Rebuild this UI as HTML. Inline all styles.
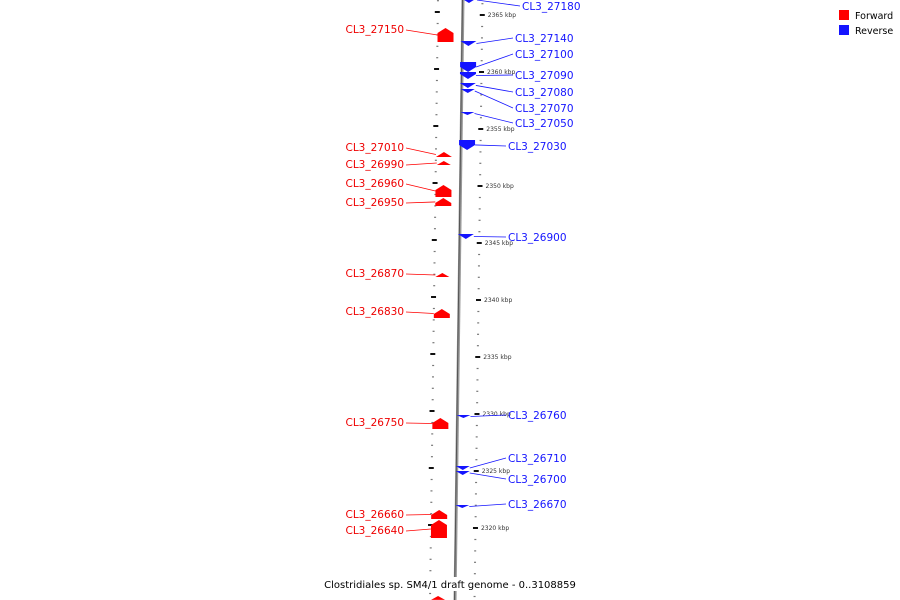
<!DOCTYPE html>
<html><head><meta charset="utf-8"><style>
body{margin:0;background:#fff}
svg{display:block;font-family:"DejaVu Sans","Liberation Sans",sans-serif}
</style></head><body>
<svg id="map" width="900" height="600" viewBox="0 0 900 600">
<g id="ticks"></g>
<path d="M463,-2 Q459,300 455,602" stroke="#999" stroke-width="3" fill="none"/>
<path d="M462.5,-2 Q458.5,300 454.5,602" stroke="#555" stroke-width="1" fill="none"/>
<g id="genes"></g>
<g id="legend">
<rect x="839" y="10" width="10" height="10" fill="#f00"/>
<text x="855" y="19" font-size="9.5" fill="#000">Forward</text>
<rect x="839" y="25" width="10" height="10" fill="#1414ff"/>
<text x="855" y="34" font-size="9.5" fill="#000">Reverse</text>
</g>
<rect x="330" y="577" width="240" height="14" fill="#fff"/>
<text x="450" y="588" font-size="10" text-anchor="middle" fill="#000">Clostridiales sp. SM4/1 draft genome - 0..3108859</text>
</svg>
<script>
const fwdNames=["CL3_27150","CL3_27010","CL3_26990","CL3_26960","CL3_26950","CL3_26870","CL3_26830","CL3_26750","CL3_26660","CL3_26640",""];
const fwdStart=[2363.86,2352.98,2352.19,2350.09,2348.95,2342.37,2339.21,2329.65,2321.58,2320.70,2314.04];
const fwdEnd=[2362.63,2352.54,2351.84,2349.04,2348.25,2342.02,2338.42,2328.68,2320.79,2319.12,2313.7];
const fwdLabelY=[29,147,164,183,202,273,311,422,514,530,0];
const revNames=["CL3_27180","CL3_27140","CL3_27100","CL3_27090","CL3_27080","CL3_27070","CL3_27050","CL3_27030","CL3_26900","CL3_26760","CL3_26710","CL3_26700","CL3_26670"];
const revStart=[2366.58,2362.72,2360.88,2360.0,2359.04,2358.51,2356.49,2354.04,2345.79,2329.91,2325.44,2325.0,2322.02];
const revEnd=[2366.05,2362.28,2360.0,2359.39,2358.6,2358.16,2356.23,2353.16,2345.35,2329.65,2325.09,2324.65,2321.75];
const revLabelY=[6,38,54,75,92,108,123,146,237,415,458,479,504];
const majorTicks=[2365,2360,2355,2350,2345,2340,2335,2330,2325,2320];

const NS="http://www.w3.org/2000/svg";
function yOf(k){return 15+(2365-k)*11.4;}
function bx(y){const t=(y+2)/604;return (1-t)*(1-t)*463+2*t*(1-t)*459+t*t*455;}
function mk(tag,attrs,parent){const e=document.createElementNS(NS,tag);for(const a in attrs)e.setAttribute(a,attrs[a]);parent.appendChild(e);return e;}
const ticks=document.getElementById('ticks'),genes=document.getElementById('genes');
for(let k=2313;k<=2367;k++){
  const y=yOf(k);
  const d1=mk('rect',{x:bx(y)+18.5,y:y-0.5,width:2,height:1.2,fill:'#777'},ticks);
  
  
  const yl=y-3;
  const d2=mk('rect',{x:bx(yl)-26,y:yl-0.5,width:2,height:1.2,fill:'#777'},ticks);
  
  
}
majorTicks.forEach(k=>{
  const y=yOf(k);
  const t=mk('rect',{x:bx(y)+17,y:y-1,width:5,height:2,fill:'#111'},ticks);
  
  
  const yl=y-3;
  const t2=mk('rect',{x:bx(yl)-28,y:yl-1,width:5,height:2,fill:'#111'},ticks);
  
  
  const l=mk('text',{x:bx(y)+25,y:y+2,'font-size':6,fill:'#333'},ticks);
  
  
  l.textContent=k+' kbp';
});
function gene(s,e,fwd,name,ly){
  const y1=yOf(s),y2=yOf(e);const top=Math.min(y1,y2),bot=Math.max(y1,y2);const h=bot-top;
  const cy=(top+bot)/2;const cx=fwd?bx(cy)-17:bx(cy)+6;
  const w=h>4?16:14;const head=Math.min(h,5);
  let pts;
  if(fwd) pts=[[cx-w/2,bot],[cx-w/2,top+head],[cx,top],[cx+w/2,top+head],[cx+w/2,bot]];
  else pts=[[cx-w/2,top],[cx+w/2,top],[cx+w/2,bot-head],[cx,bot],[cx-w/2,bot-head]];
  const col=fwd?'#f00':'#1414ff';
  const p=mk('polygon',{points:pts.map(q=>q.join(',')).join(' '),fill:col},genes);
  
  
  if(!name)return;
  if(fwd){
    const ln=mk('line',{x1:406,y1:ly+1,x2:cx-w/2,y2:cy,stroke:'#f00','stroke-width':0.8},genes);
    
    
    const t=mk('text',{x:404,y:ly+4,'font-size':10.5,'text-anchor':'end',fill:'#e00'},genes);
    
    
    t.textContent=name;
  }else{
    const lx=ly<20?522:(ly<130?515:508);
    const ln=mk('line',{x1:cx+w/2,y1:cy,x2:lx-2,y2:ly,stroke:'#1414ff','stroke-width':0.8},genes);
    
    
    const t=mk('text',{x:lx,y:ly+4,'font-size':10.5,fill:'#1414ff'},genes);
    
    
    t.textContent=name;
  }
}
fwdNames.forEach((n,i)=>gene(fwdStart[i],fwdEnd[i],true,n,fwdLabelY[i]));
revNames.forEach((n,i)=>gene(revStart[i],revEnd[i],false,n,revLabelY[i]));
</script>
</body></html>
